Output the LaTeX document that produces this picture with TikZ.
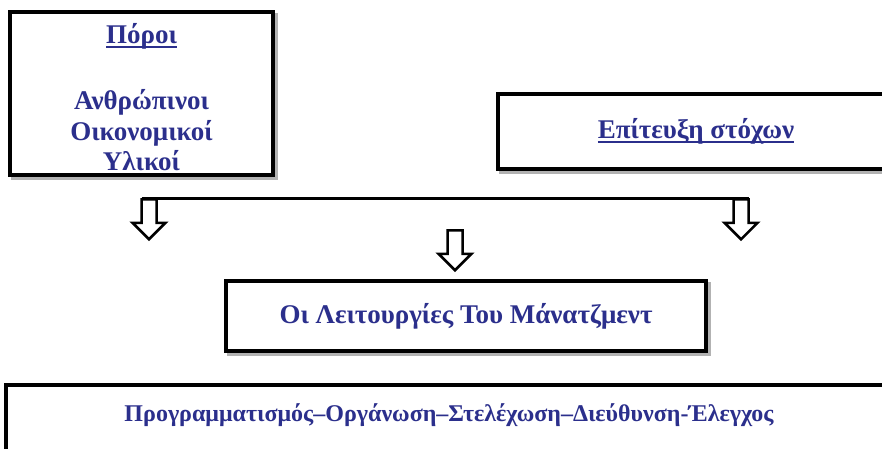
\documentclass[tikz,border=0pt]{standalone}
\usepackage{fontspec}
\setmainfont{Liberation Serif}
\usepackage{tikz}
\usetikzlibrary{shapes.arrows,shadows}

\definecolor{textblue}{RGB}{43,47,140}
\newcommand{\thickul}[1]{\leavevmode\setbox0=\hbox{#1}\rlap{\rule[-4.5pt]{\wd0}{1.8pt}}\box0}

\begin{document}
\begin{tikzpicture}[x=1pt,y=1pt]
		\tikzstyle{frame}=[draw, rectangle, line width=4pt, fill=white, inner sep=0pt,
			drop shadow={shadow xshift=2.5pt, shadow yshift=-2.5pt, fill=gray!60, draw=gray!60, line width=4pt, opacity=1}];
		\tikzstyle{boxtext}=[align=center, text=textblue, font=\bfseries\fontsize{27}{30.5}\selectfont];
		\tikzstyle{hollow_arrow}=[single arrow, draw, line width=2.5pt, fill=white, shape border rotate=270,
			minimum height=40pt, minimum width=0pt, inner sep=6.25pt, single arrow head extend=9pt];

		\useasboundingbox (0,0) rectangle (882,-448);
		\clip (0,0) rectangle (882,-448);

		% boxes
		\node[frame, minimum width=263, minimum height=163] (poroi) at (141.5,-93.5) {};
		\node[frame, minimum width=396, minimum height=75] (stoxoi) at (696,-131.5) {};
		\node[frame, minimum width=480, minimum height=70] (mgmt) at (466,-316) {};
		\node[frame, minimum width=886, minimum height=110] (leit) at (449,-440) {};

		\node[boxtext] (poroi_t) at (141.5,-97) {\thickul{Πόροι}\\[36pt]Ανθρώπινοι\\Οικονομικοί\\Υλικοί};
		\node[boxtext] (stoxoi_t) at (stoxoi) {\thickul{Επίτευξη στόχων}};
		\node[boxtext] (mgmt_t) at (mgmt) {Οι Λειτουργίες Του Μάνατζμεντ};
		\node[boxtext, font=\bfseries\fontsize{24}{28}\selectfont] (leit_t) at (449,-415) {Προγραμματισμός–Οργάνωση–Στελέχωση–Διεύθυνση-Έλεγχος};

		% arrows
		\node[hollow_arrow, anchor=tail] (a_left) at (149,-198) {};
		\node[hollow_arrow, anchor=tail] (a_right) at (741,-198) {};
		\node[hollow_arrow, anchor=tail] (a_mid) at (455,-229) {};
		\draw[line width=3pt] ([xshift=-7.5pt]a_left.tail) -- ([xshift=7.5pt]a_right.tail);

	\end{tikzpicture}
\end{document}
